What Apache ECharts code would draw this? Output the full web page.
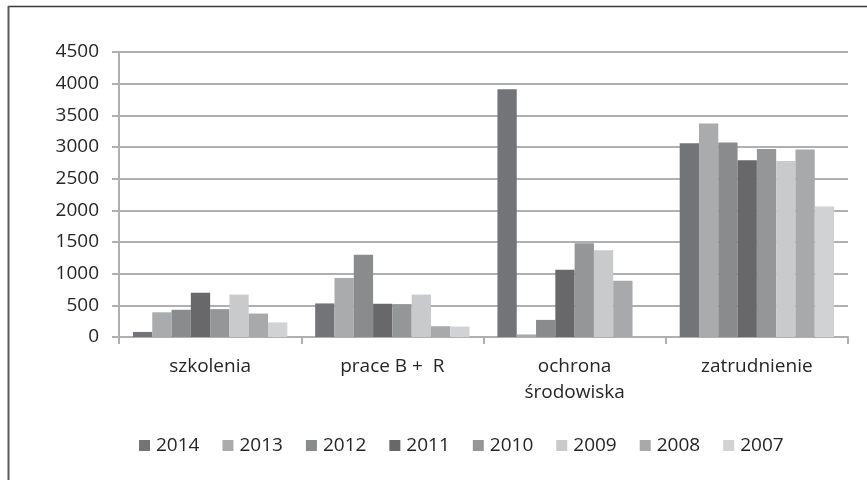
<!DOCTYPE html>
<html>
<head>
<meta charset="utf-8">
<title>Wydatki wg kategorii 2007-2014</title>
<script src="https://cdn.jsdelivr.net/npm/echarts@6/dist/echarts.min.js"></script>
<style>
    html, body { margin: 0; padding: 0; background: #ffffff; }
    #chart { width: 867px; height: 480px; }
</style>
</head>
<body>
<div id="chart"></div>
<script>
// Categories (x axis)
const categories = ['szkolenia', 'prace B +  R', 'ochrona\nśrodowiska', 'zatrudnienie'];

// Series values, one array per year
const v2014 = [80, 530, 3910, 3060];
const v2013 = [390, 930, 40, 3370];
const v2012 = [430, 1300, 270, 3070];
const v2011 = [700, 525, 1060, 2790];
const v2010 = [440, 520, 1480, 2970];
const v2009 = [670, 670, 1370, 2780];
const v2008 = [370, 170, 890, 2960];
const v2007 = [230, 165, 0, 2060];

const yearNames = ['2014', '2013', '2012', '2011', '2010', '2009', '2008', '2007'];
const yearValues = [v2014, v2013, v2012, v2011, v2010, v2009, v2008, v2007];

// Grey shades used for each year
const yearColors = ['#737477', '#aaabad', '#8a8b8d', '#68686a', '#959698', '#c9cacb', '#a8a9ab', '#d1d2d3'];

const FONT = '"Open Sans", "Noto Sans", sans-serif';
const TEXT_COLOR = '#262626';
const GRID_COLOR = '#b0b0b0';

const chart = echarts.init(document.getElementById('chart'));

const series = yearNames.map((name, i) => ({
    name: name,
    type: 'bar',
    data: yearValues[i],
    barGap: '0%',
    barCategoryGap: '15.3%',
    itemStyle: { color: yearColors[i] },
    emphasis: { disabled: true }
}));

chart.setOption({
    animation: false,
    backgroundColor: '#ffffff',
    textStyle: { fontFamily: FONT },
    grid: { left: 119, right: 19, top: 52, bottom: 143, containLabel: false },
    legend: {
        data: yearNames,
        left: 134,
        top: 431,
        icon: 'rect',
        itemWidth: 11,
        itemHeight: 11,
        itemGap: 23,
        textStyle: { fontFamily: FONT, fontSize: 19, color: TEXT_COLOR, padding: [0, 0, 0, 1] }
    },
    xAxis: {
        type: 'category',
        data: categories,
        axisLine: { lineStyle: { color: GRID_COLOR, width: 2 } },
        axisTick: { show: true, alignWithLabel: false, length: 7, lineStyle: { color: GRID_COLOR, width: 2 } },
        axisLabel: {
            fontFamily: FONT,
            fontSize: 19,
            color: TEXT_COLOR,
            lineHeight: 26,
            margin: 17,
            interval: 0
        },
        splitLine: { show: false }
    },
    yAxis: {
        type: 'value',
        min: 0,
        max: 4500,
        interval: 500,
        axisLine: { show: true, lineStyle: { color: GRID_COLOR, width: 2 } },
        axisTick: { show: true, length: 7, lineStyle: { color: GRID_COLOR, width: 2 } },
        axisLabel: {
            fontFamily: FONT,
            fontSize: 19,
            color: TEXT_COLOR,
            margin: 20,
            formatter: (value) => String(value)
        },
        splitLine: { show: true, lineStyle: { color: GRID_COLOR, width: 2 } }
    },
    // frame of the original picture (top and left edges only)
    graphic: [
        { type: 'line', shape: { x1: 8, y1: 6.5, x2: 867, y2: 6.5 }, style: { stroke: '#3a3a3a', lineWidth: 1.5 } },
        { type: 'line', shape: { x1: 8.5, y1: 6, x2: 8.5, y2: 480 }, style: { stroke: '#5a5a5a', lineWidth: 2 } }
    ],
    series: series
});
</script>
</body>
</html>
